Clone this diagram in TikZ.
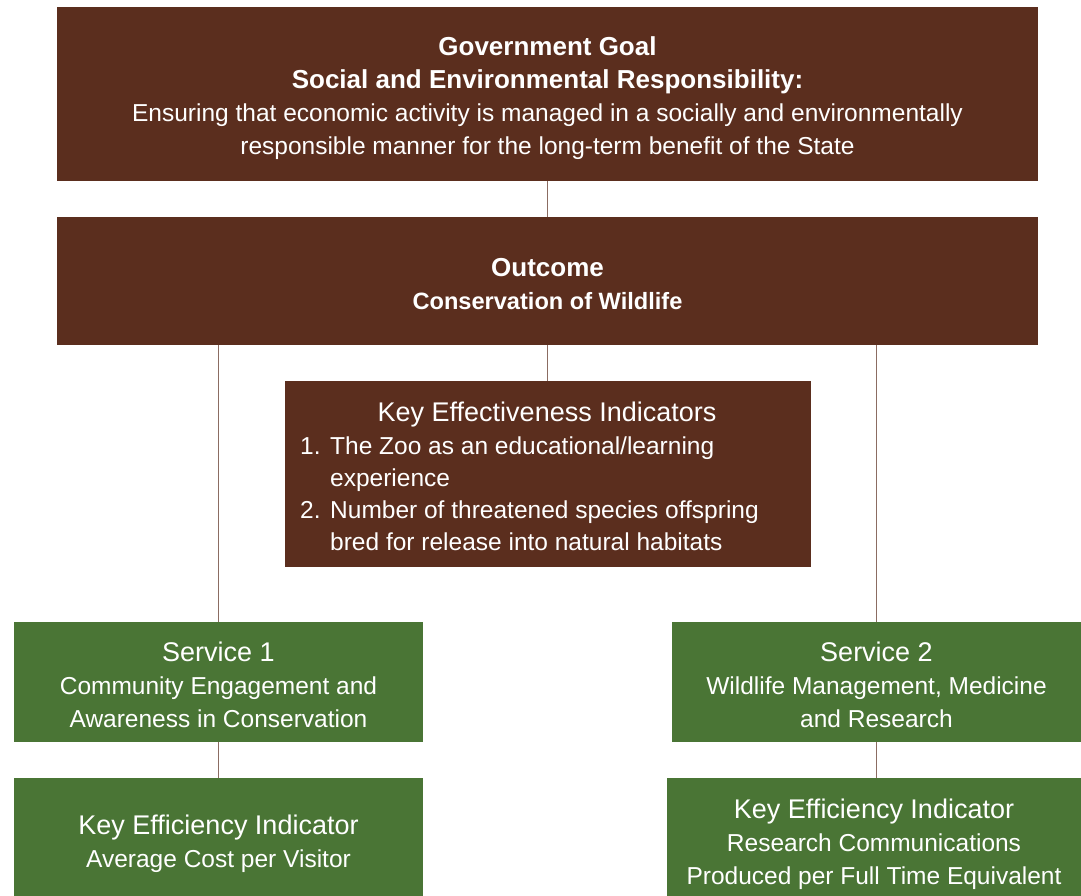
\documentclass[tikz,border=0pt]{standalone}
\usepackage{fontspec}
\setmainfont{Liberation Sans}
\definecolor{zbrown}{RGB}{91,46,30}
\definecolor{zgreen}{RGB}{74,117,53}
\definecolor{zline}{RGB}{139,108,98}
\newcommand\boxtitle[1]{{\fontsize{27}{33}\selectfont #1}}
\newcommand\pushdown[1]{\rule{0pt}{#1}}

\begin{document}
\begin{tikzpicture}[x=1pt,y=-1pt]

    \tikzset{boxstyle/.style={fill=#1,text=white,inner sep=0pt,align=center,font=\fontsize{24.5}{33}\selectfont},
             txtstyle/.style={text=white,inner sep=0pt,font=\fontsize{24.5}{33}\selectfont}}
    \useasboundingbox (0,0) rectangle (1081,896);

    \node[boxstyle=zbrown,minimum width=981pt,minimum height=174pt] (g1) at (547.5,94)
        {\pushdown{28pt}\textbf{\fontsize{26}{33}\selectfont Government Goal}\\
         \textbf{\fontsize{26}{33}\selectfont Social and Environmental Responsibility:}\\
         Ensuring that economic activity is managed in a socially and environmentally\\
         responsible manner for the long-term benefit of the State};
    \node[boxstyle=zbrown,minimum width=981pt,minimum height=128pt] (o1) at (547.5,281)
        {\pushdown{25pt}\textbf{\fontsize{26}{33}\selectfont Outcome}\\ \textbf{\fontsize{23.6}{33}\selectfont Conservation of Wildlife}};

    \node[boxstyle=zbrown,minimum width=526pt,minimum height=186pt] (k1) at (547.5,474) {};
    \node[txtstyle] (k1t) at (547,415) {\boxtitle{Key Effectiveness Indicators}};
    \node[txtstyle,anchor=west,align=left,font=\fontsize{24.5}{32}\selectfont] (k1l) at (300,494)
        {\makebox[30pt][l]{1.}The Zoo as an educational/learning\\
         \hspace*{30pt}experience\\
         \makebox[30pt][l]{2.}Number of threatened species offspring\\
         \hspace*{30pt}bred for release into natural habitats};

    \node[boxstyle=zgreen,minimum width=409pt,minimum height=120pt] (s1) at (218.5,682)
        {\pushdown{25pt}\boxtitle{Service 1}\\ Community Engagement and\\ Awareness in Conservation};
    \node[boxstyle=zgreen,minimum width=409pt,minimum height=120pt] (s2) at (876.5,682)
        {\pushdown{25pt}\boxtitle{Service 2}\\ Wildlife Management, Medicine\\ and Research};

    % bottom boxes run past the page edge
    \node[boxstyle=zgreen,minimum width=409pt,minimum height=131pt] (e1) at (218.5,843.5)
        {\boxtitle{Key Efficiency Indicator}\\ Average Cost per Visitor};
    \node[boxstyle=zgreen,minimum width=414pt,minimum height=133pt] (e2) at (874,844.5)
        {\boxtitle{Key Efficiency Indicator}\\ Research Communications\\ Produced per Full Time Equivalent};

    \begin{scope}[every path/.style={draw=zline,line width=1.5pt}]
        \draw (g1) -- (o1);
        \draw (o1) -- (k1);
        \draw (o1.south -| s1) -- (s1);
        \draw (o1.south -| s2) -- (s2);
        \draw (s1) -- (e1.north -| s1);
        \draw (s2) -- (e2.north -| s2);
    \end{scope}
\end{tikzpicture}
\end{document}
